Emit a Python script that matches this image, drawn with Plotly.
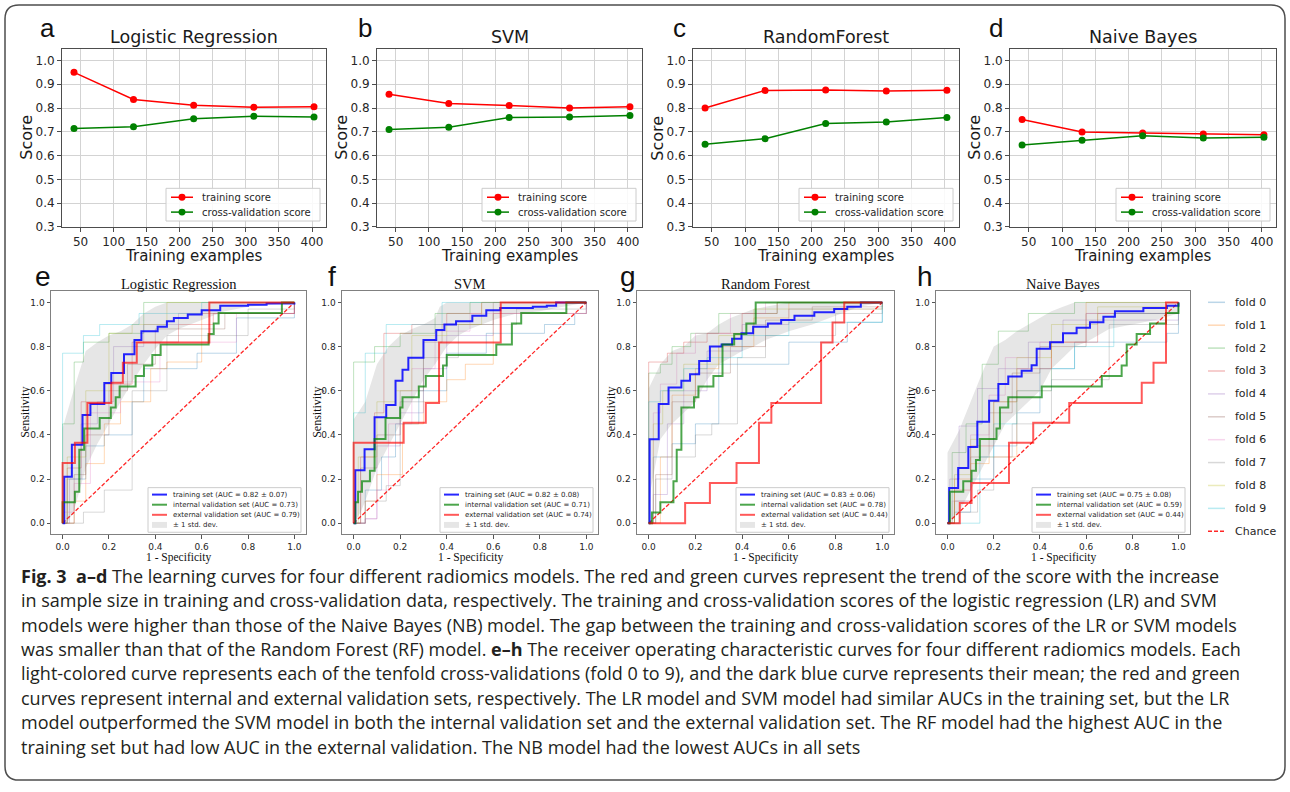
import plotly.graph_objects as go

W, H = 1290, 792

# ---------------- learning-curve data (panels a-d) ----------------
train_sizes = [40, 130, 221, 312, 403]
lc_titles = ["Logistic Regression", "SVM", "RandomForest", "Naive Bayes"]
lc_letters = ["a", "b", "c", "d"]
lr_train = [0.950, 0.836, 0.812, 0.803, 0.805]
lr_cv = [0.714, 0.721, 0.755, 0.766, 0.762]
svm_train = [0.858, 0.819, 0.811, 0.800, 0.805]
svm_cv = [0.710, 0.719, 0.760, 0.762, 0.769]
rf_train = [0.800, 0.874, 0.876, 0.872, 0.875]
rf_cv = [0.648, 0.671, 0.735, 0.741, 0.760]
nb_train = [0.752, 0.699, 0.695, 0.691, 0.688]
nb_cv = [0.645, 0.665, 0.683, 0.674, 0.677]
lc_xticks = [50, 100, 150, 200, 250, 300, 350, 400]
lc_yticks = [0.3, 0.4, 0.5, 0.6, 0.7, 0.8, 0.9, 1.0]
lc_legend = ["training score", "cross-validation score"]

# ---------------- ROC data (panels e-h) ----------------
roc_titles = ["Logistic Regression", "SVM", "Random Forest", "Naive Bayes"]
roc_letters = ["e", "f", "g", "h"]
roc_ticks = [0.0, 0.2, 0.4, 0.6, 0.8, 1.0]
auc_train = ["0.82 ± 0.07", "0.82 ± 0.08", "0.83 ± 0.06", "0.75 ± 0.08"]
auc_int = ["0.73", "0.71", "0.78", "0.59"]
auc_ext = ["0.79", "0.74", "0.44", "0.44"]
fold_names = ["fold 0", "fold 1", "fold 2", "fold 3", "fold 4",
              "fold 5", "fold 6", "fold 7", "fold 8", "fold 9"]
fold_colors = ["rgba(31,119,180,0.3)", "rgba(255,127,14,0.3)", "rgba(44,160,44,0.3)",
               "rgba(214,39,40,0.3)", "rgba(148,103,189,0.3)", "rgba(140,86,75,0.3)",
               "rgba(227,119,194,0.3)", "rgba(127,127,127,0.3)", "rgba(188,189,34,0.3)",
               "rgba(23,190,207,0.3)"]

# Logistic regression
lr_mean_x = [0, 0.007, 0.04, 0.086, 0.12, 0.18, 0.21, 0.265, 0.31, 0.34, 0.41, 0.45, 0.48, 0.54, 0.6, 0.68, 0.8, 0.88, 1.0]
lr_mean_y = [0, 0.21, 0.355, 0.49, 0.54, 0.635, 0.68, 0.765, 0.83, 0.87, 0.89, 0.915, 0.93, 0.945, 0.965, 0.985, 0.99, 0.995, 1.0]
lr_up_x = [0, 0.0, 0.05, 0.1, 0.15, 0.2, 0.25, 0.3, 0.35, 0.4, 0.45, 1.0]
lr_up_y = [0, 0.43, 0.61, 0.78, 0.82, 0.85, 0.87, 0.90, 0.95, 0.98, 1.0, 1.0]
lr_lo_x = [0, 0.02, 0.05, 0.1, 0.15, 0.2, 0.25, 0.3, 0.35, 0.4, 0.45, 0.5, 0.6, 0.7, 0.8, 1.0]
lr_lo_y = [0, 0.0, 0.06, 0.25, 0.36, 0.45, 0.55, 0.64, 0.72, 0.79, 0.85, 0.88, 0.92, 0.96, 0.98, 1.0]
lr_int_x = [0, 0, 0.053, 0.072, 0.093, 0.16, 0.208, 0.229, 0.246, 0.315, 0.351, 0.387, 0.423, 0.63, 0.652, 0.673, 0.946, 1.0]
lr_int_y = [0, 0.095, 0.143, 0.333, 0.429, 0.476, 0.524, 0.571, 0.619, 0.667, 0.714, 0.762, 0.810, 0.857, 0.905, 0.952, 1.0, 1.0]
lr_ext_x = [0, 0, 0.053, 0.107, 0.21, 0.26, 0.32, 0.633, 1.0]
lr_ext_y = [0, 0.273, 0.364, 0.545, 0.636, 0.727, 0.818, 1.0, 1.0]
lr_fold_x = [[0, 0.02, 0.1, 0.18, 0.3, 0.35, 0.58, 0.75, 1],
             [0, 0.05, 0.1, 0.18, 0.25, 0.38, 0.45, 0.6, 1],
             [0, 0, 0.05, 0.09, 0.2, 0.35, 1],
             [0, 0.02, 0.08, 0.18, 0.3, 0.5, 0.65, 1],
             [0, 0.03, 0.08, 0.15, 0.22, 0.35, 0.5, 1],
             [0, 0.05, 0.1, 0.2, 0.28, 0.4, 0.7, 1],
             [0, 0, 0.05, 0.12, 0.25, 0.42, 0.75, 1],
             [0, 0.09, 0.18, 0.3, 0.45, 0.8, 1],
             [0, 0.02, 0.1, 0.2, 0.3, 0.45, 1],
             [0, 0, 0.09, 0.16, 0.33, 0.6, 1]]
lr_fold_y = [[0, 0.2, 0.35, 0.4, 0.55, 0.7, 0.77, 0.93, 1],
             [0, 0.1, 0.27, 0.45, 0.55, 0.7, 0.73, 0.95, 1],
             [0, 0.45, 0.73, 0.82, 0.86, 1, 1],
             [0, 0.25, 0.55, 0.63, 0.82, 0.9, 0.95, 1],
             [0, 0.2, 0.45, 0.55, 0.8, 0.9, 0.95, 1],
             [0, 0.22, 0.4, 0.6, 0.72, 0.88, 0.95, 1],
             [0, 0.05, 0.18, 0.5, 0.64, 0.82, 0.95, 1],
             [0, 0.05, 0.15, 0.6, 0.85, 0.97, 1],
             [0, 0.3, 0.6, 0.86, 0.9, 1, 1],
             [0, 0.77, 0.85, 0.9, 0.95, 1, 1]]

# SVM
svm_mean_x = [0, 0.007, 0.047, 0.09, 0.14, 0.18, 0.21, 0.235, 0.30, 0.355, 0.39, 0.44, 0.51, 0.57, 0.63, 0.77, 0.83, 0.87, 1.0]
svm_mean_y = [0, 0.24, 0.335, 0.48, 0.535, 0.645, 0.695, 0.75, 0.83, 0.875, 0.90, 0.915, 0.94, 0.965, 0.975, 0.98, 0.985, 1.0, 1.0]
svm_up_x = [0, 0.0, 0.05, 0.1, 0.15, 0.2, 0.25, 0.3, 0.35, 0.37, 0.4, 1.0]
svm_up_y = [0, 0.47, 0.55, 0.72, 0.80, 0.85, 0.88, 0.90, 0.93, 0.98, 1.0, 1.0]
svm_lo_x = [0, 0.03, 0.05, 0.1, 0.15, 0.2, 0.25, 0.3, 0.35, 0.4, 0.45, 0.5, 0.6, 0.7, 0.8, 0.9, 1.0]
svm_lo_y = [0, 0.05, 0.1, 0.25, 0.35, 0.45, 0.55, 0.65, 0.72, 0.8, 0.85, 0.88, 0.92, 0.95, 0.96, 0.98, 1.0]
svm_int_x = [0, 0.007, 0.019, 0.036, 0.07, 0.09, 0.137, 0.2, 0.21, 0.28, 0.31, 0.384, 0.40, 0.613, 0.68, 0.72, 0.914, 1.0]
svm_int_y = [0, 0.095, 0.143, 0.190, 0.238, 0.381, 0.476, 0.524, 0.571, 0.619, 0.667, 0.714, 0.762, 0.810, 0.905, 0.952, 1.0, 1.0]
svm_ext_x = [0, 0, 0.215, 0.31, 0.367, 0.632, 1.0]
svm_ext_y = [0, 0.364, 0.455, 0.545, 0.818, 1.0, 1.0]
svm_fold_x = [[0, 0.05, 0.12, 0.18, 0.28, 0.4, 0.57, 0.82, 0.95, 1],
              [0, 0.05, 0.1, 0.21, 0.3, 0.4, 0.48, 0.6, 1],
              [0, 0, 0.09, 0.2, 0.35, 0.5, 1],
              [0, 0.03, 0.09, 0.13, 0.25, 0.4, 0.55, 1],
              [0, 0.05, 0.1, 0.2, 0.3, 0.4, 0.6, 1],
              [0, 0.03, 0.1, 0.2, 0.3, 0.38, 0.6, 1],
              [0, 0.05, 0.1, 0.15, 0.25, 0.35, 0.5, 1],
              [0, 0.05, 0.14, 0.2, 0.3, 0.45, 0.7, 1],
              [0, 0.02, 0.1, 0.18, 0.25, 0.4, 0.55, 1],
              [0, 0, 0.05, 0.14, 0.38, 1]]
svm_fold_y = [[0, 0.15, 0.3, 0.45, 0.6, 0.77, 0.86, 0.9, 0.95, 1],
              [0, 0.1, 0.22, 0.45, 0.55, 0.65, 0.72, 0.95, 1],
              [0, 0.73, 0.8, 0.86, 0.95, 1, 1],
              [0, 0.3, 0.5, 0.86, 0.9, 0.95, 1, 1],
              [0, 0.02, 0.35, 0.5, 0.7, 0.85, 0.95, 1],
              [0, 0.25, 0.4, 0.6, 0.82, 0.9, 1, 1],
              [0, 0.02, 0.15, 0.45, 0.7, 0.87, 0.95, 1],
              [0, 0.1, 0.17, 0.55, 0.75, 0.9, 0.97, 1],
              [0, 0.3, 0.55, 0.6, 0.85, 0.9, 1, 1],
              [0, 0.5, 0.77, 0.9, 1, 1]]

# Random forest
rf_mean_x = [0, 0.004, 0.043, 0.085, 0.14, 0.177, 0.216, 0.262, 0.312, 0.357, 0.397, 0.447, 0.51, 0.567, 0.624, 0.709, 0.794, 0.85, 0.908, 1.0]
rf_mean_y = [0, 0.38, 0.54, 0.615, 0.645, 0.675, 0.735, 0.80, 0.81, 0.835, 0.86, 0.89, 0.905, 0.92, 0.94, 0.955, 0.97, 0.98, 1.0, 1.0]
rf_up_x = [0, 0.0, 0.05, 0.1, 0.15, 0.2, 0.25, 0.3, 0.35, 0.4, 0.45, 0.5, 0.6, 1.0]
rf_up_y = [0, 0.61, 0.72, 0.78, 0.80, 0.85, 0.86, 0.90, 0.93, 0.95, 0.97, 0.98, 1.0, 1.0]
rf_lo_x = [0, 0.01, 0.05, 0.1, 0.15, 0.2, 0.25, 0.3, 0.35, 0.4, 0.45, 0.5, 0.6, 0.7, 0.8, 0.9, 1.0]
rf_lo_y = [0, 0.16, 0.38, 0.45, 0.50, 0.55, 0.65, 0.72, 0.75, 0.78, 0.80, 0.83, 0.87, 0.90, 0.94, 0.98, 1.0]
rf_int_x = [0, 0.014, 0.05, 0.106, 0.12, 0.14, 0.194, 0.213, 0.277, 0.316, 0.366, 0.418, 0.458, 1.0]
rf_int_y = [0, 0.048, 0.095, 0.190, 0.333, 0.524, 0.571, 0.619, 0.667, 0.810, 0.857, 0.905, 1.0, 1.0]
rf_ext_x = [0, 0.156, 0.262, 0.376, 0.472, 0.525, 0.738, 0.787, 0.837, 1.0]
rf_ext_y = [0, 0.091, 0.182, 0.273, 0.455, 0.545, 0.818, 0.909, 1.0, 1.0]
rf_fold_x = [[0, 0.02, 0.1, 0.2, 0.3, 0.6, 0.85, 1],
             [0, 0.05, 0.1, 0.2, 0.3, 0.45, 0.6, 1],
             [0, 0, 0.05, 0.1, 0.18, 0.3, 0.55, 1],
             [0, 0, 0.08, 0.15, 0.25, 0.4, 0.55, 1],
             [0, 0.02, 0.08, 0.15, 0.25, 0.4, 0.6, 1],
             [0, 0.03, 0.1, 0.2, 0.35, 0.5, 0.7, 1],
             [0, 0.02, 0.05, 0.12, 0.2, 0.35, 0.5, 1],
             [0, 0.03, 0.1, 0.2, 0.27, 0.38, 0.5, 0.8, 1],
             [0, 0.02, 0.06, 0.15, 0.3, 0.45, 1],
             [0, 0, 0.05, 0.15, 0.25, 0.4, 0.6, 0.9, 1]]
rf_fold_y = [[0, 0.3, 0.36, 0.45, 0.72, 0.82, 0.91, 1],
             [0, 0.3, 0.58, 0.7, 0.8, 0.93, 1, 1],
             [0, 0.68, 0.72, 0.8, 0.86, 0.95, 1, 1],
             [0, 0.73, 0.77, 0.82, 0.86, 0.95, 1, 1],
             [0, 0.13, 0.45, 0.6, 0.78, 0.9, 0.97, 1],
             [0, 0.22, 0.55, 0.68, 0.8, 0.92, 0.98, 1],
             [0, 0.5, 0.63, 0.77, 0.86, 0.95, 1, 1],
             [0, 0.2, 0.3, 0.4, 0.45, 0.75, 0.85, 0.95, 1],
             [0, 0.45, 0.6, 0.72, 0.85, 0.97, 1],
             [0, 0.55, 0.6, 0.7, 0.75, 0.85, 0.91, 0.91, 1]]

# Naive Bayes
nb_mean_x = [0, 0.007, 0.046, 0.09, 0.129, 0.18, 0.22, 0.263, 0.321, 0.364, 0.386, 0.444, 0.5, 0.559, 0.617, 0.675, 0.725, 0.848, 0.95, 1.0]
nb_mean_y = [0, 0.16, 0.25, 0.345, 0.46, 0.555, 0.63, 0.665, 0.69, 0.715, 0.79, 0.82, 0.86, 0.885, 0.91, 0.935, 0.96, 0.975, 0.985, 1.0]
nb_up_x = [0, 0.0, 0.05, 0.1, 0.15, 0.2, 0.25, 0.3, 0.35, 0.4, 0.45, 0.5, 0.55, 1.0]
nb_up_y = [0, 0.32, 0.42, 0.55, 0.68, 0.80, 0.83, 0.87, 0.90, 0.93, 0.96, 0.98, 1.0, 1.0]
nb_lo_x = [0, 0.05, 0.1, 0.15, 0.2, 0.25, 0.3, 0.35, 0.4, 0.45, 0.5, 0.55, 0.6, 0.7, 0.8, 0.9, 1.0]
nb_lo_y = [0, 0.05, 0.15, 0.25, 0.35, 0.45, 0.50, 0.55, 0.60, 0.70, 0.75, 0.80, 0.82, 0.88, 0.90, 0.92, 0.95]
nb_int_x = [0, 0.01, 0.068, 0.104, 0.123, 0.14, 0.212, 0.227, 0.263, 0.408, 0.668, 0.754, 0.776, 0.819, 0.877, 0.946, 1.0]
nb_int_y = [0, 0.143, 0.190, 0.238, 0.286, 0.381, 0.429, 0.524, 0.571, 0.619, 0.667, 0.714, 0.810, 0.857, 0.905, 0.952, 1.0]
nb_ext_x = [0, 0.053, 0.104, 0.266, 0.371, 0.527, 0.841, 0.892, 0.946, 1.0]
nb_ext_y = [0, 0.091, 0.182, 0.364, 0.455, 0.545, 0.636, 0.727, 1.0, 1.0]
nb_fold_x = [[0, 0.03, 0.1, 0.2, 0.3, 0.4, 0.55, 0.95, 1],
             [0, 0.03, 0.1, 0.18, 0.3, 0.45, 0.6, 1],
             [0, 0.02, 0.08, 0.15, 0.22, 0.35, 0.55, 1],
             [0, 0.03, 0.1, 0.2, 0.3, 0.45, 0.65, 1],
             [0, 0.01, 0.05, 0.13, 0.22, 0.35, 0.5, 1],
             [0, 0.03, 0.1, 0.18, 0.28, 0.4, 0.6, 1],
             [0, 0.02, 0.1, 0.18, 0.25, 0.4, 0.6, 1],
             [0, 0.05, 0.13, 0.2, 0.28, 0.45, 0.7, 1],
             [0, 0.03, 0.1, 0.2, 0.3, 0.45, 0.65, 1],
             [0, 0.14, 0.2, 0.3, 0.45, 0.55, 0.72, 1]]
nb_fold_y = [[0, 0.05, 0.2, 0.35, 0.5, 0.7, 0.82, 0.86, 1],
             [0, 0.2, 0.27, 0.3, 0.6, 0.82, 1, 1],
             [0, 0.32, 0.45, 0.72, 0.87, 0.95, 1, 1],
             [0, 0.15, 0.35, 0.55, 0.7, 0.82, 0.95, 1],
             [0, 0.2, 0.44, 0.61, 0.7, 0.82, 0.92, 1],
             [0, 0.1, 0.3, 0.5, 0.68, 0.8, 0.95, 1],
             [0, 0.1, 0.4, 0.58, 0.75, 0.82, 0.95, 1],
             [0, 0.05, 0.15, 0.3, 0.45, 0.65, 0.9, 1],
             [0, 0.22, 0.38, 0.55, 0.75, 0.9, 0.98, 1],
             [0, 0.3, 0.45, 0.6, 0.7, 0.8, 0.95, 1]]

caption_lines = [
    "<b>Fig. 3</b>  <b>a–d</b> The learning curves for four different radiomics models. The red and green curves represent the trend of the score with the increase",
    "in sample size in training and cross-validation data, respectively. The training and cross-validation scores of the logistic regression (LR) and SVM",
    "models were higher than those of the Naive Bayes (NB) model. The gap between the training and cross-validation scores of the LR or SVM models",
    "was smaller than that of the Random Forest (RF) model. <b>e–h</b> The receiver operating characteristic curves for four different radiomics models. Each",
    "light-colored curve represents each of the tenfold cross-validations (fold 0 to 9), and the dark blue curve represents their mean; the red and green",
    "curves represent internal and external validation sets, respectively. The LR model and SVM model had similar AUCs in the training set, but the LR",
    "model outperformed the SVM model in both the internal validation set and the external validation set. The RF model had the highest AUC in the",
    "training set but had low AUC in the external validation. The NB model had the lowest AUCs in all sets",
]

# ---------------- layout geometry (pixels) ----------------
lc_panels = [(62, 326), (377, 642), (693, 959), (1010, 1276)]
LC_T, LC_B = 49, 229
lc_letter_x = [47, 365, 679, 996]
roc_panels = [(51, 306), (342, 598), (637, 894), (936, 1190)]
ROC_T, ROC_B = 294, 539
roc_letter_x = [43, 332, 628, 925]
roc_ylab_x = [25, 317, 611, 911]

SANS = "DejaVu Sans"
SERIF = "Liberation Serif"
LETTER = "Liberation Sans"
CAPTION = "Open Sans"


def X(p):
    return p / W


def Y(p):
    return 1 - p / H


def ax_name(n):
    return ("x", "y") if n == 1 else (f"x{n}", f"y{n}")


fig = go.Figure()
annotations = []
shapes = []


def ann(x, y, text, size, family=SANS, color="#1a1a1a", xanchor="center", yanchor="middle", angle=0):
    annotations.append(dict(x=X(x), y=Y(y), xref="paper", yref="paper", text=text, showarrow=False,
                            xanchor=xanchor, yanchor=yanchor, textangle=angle,
                            font=dict(family=family, size=size, color=color)))


def line_shape(x0, y0, x1, y1, color, width, dash="solid"):
    shapes.append(dict(type="line", xref="paper", yref="paper", x0=X(x0), y0=Y(y0), x1=X(x1), y1=Y(y1),
                       line=dict(color=color, width=width, dash=dash)))


def rect_shape(x0, y0, x1, y1, fill, lcolor, lwidth):
    shapes.append(dict(type="rect", xref="paper", yref="paper", x0=X(x0), y0=Y(y0), x1=X(x1), y1=Y(y1),
                       fillcolor=fill, line=dict(color=lcolor, width=lwidth)))


# ---------------- learning curves ----------------
lc_series = [(lr_train, lr_cv), (svm_train, svm_cv), (rf_train, rf_cv), (nb_train, nb_cv)]
layout_axes = {}
for i, (tr, cv) in enumerate(lc_series):
    n = i + 1
    xa, ya = ax_name(n)
    for vals, col in ((tr, "#ff0000"), (cv, "#008000")):
        fig.add_trace(go.Scatter(x=train_sizes, y=vals, mode="lines+markers", xaxis=xa, yaxis=ya,
                                 line=dict(color=col, width=1.5), marker=dict(color=col, size=7),
                                 showlegend=False, hoverinfo="x+y"))
    l, r = lc_panels[i]
    common = dict(showline=True, mirror=True, linecolor="#4d4d4d", linewidth=1, ticks="outside", ticklen=4,
                  tickcolor="#4d4d4d", tickfont=dict(family=SANS, size=12, color="#262626"), zeroline=False,
                  showgrid=True, gridcolor="#d3d3d3", gridwidth=1)
    layout_axes["xaxis" if n == 1 else f"xaxis{n}"] = dict(
        domain=[X(l), X(r)], anchor=ya, range=[21.85, 421.15], tickvals=lc_xticks, **common)
    layout_axes["yaxis" if n == 1 else f"yaxis{n}"] = dict(
        domain=[Y(LC_B), Y(LC_T)], anchor=xa, range=[0.3, 1.05], tickvals=lc_yticks, tickformat=".1f", **common)
    cx = (l + r) / 2
    ann(cx, 37, lc_titles[i], 17.5, SANS, "#1a1a1a")
    ann(lc_letter_x[i], 28, lc_letters[i], 26, LETTER, "#111111")
    ann(27 + (l - 62), (LC_T + LC_B) / 2, "Score", 16, SANS, "#1a1a1a", angle=-90)
    ann(cx, 258, "Training examples", 15, SANS, "#1a1a1a")
    # legend box
    bx0, bx1, by0, by1 = r - 160, r - 6, 190, 223
    shapes.append(dict(type="rect", xref="paper", yref="paper", x0=X(bx0), y0=Y(by1), x1=X(bx1), y1=Y(by0),
                       fillcolor="rgba(255,255,255,0.85)", line=dict(color="#cccccc", width=1)))
    for k, col in enumerate(("#ff0000", "#008000")):
        ry = 199 + 15 * k
        line_shape(bx0 + 5, ry, bx0 + 27, ry, col, 1.5)
        shapes.append(dict(type="circle", xref="paper", yref="paper", x0=X(bx0 + 12.5), x1=X(bx0 + 19.5),
                           y0=Y(ry + 3.5), y1=Y(ry - 3.5), fillcolor=col, line=dict(color=col, width=0)))
        ann(bx0 + 34, ry, lc_legend[k], 10, SANS, "#262626", xanchor="left")

# ---------------- ROC curves ----------------
roc_sets = [
    (lr_fold_x, lr_fold_y, lr_mean_x, lr_mean_y, lr_up_x, lr_up_y, lr_lo_x, lr_lo_y, lr_int_x, lr_int_y, lr_ext_x, lr_ext_y),
    (svm_fold_x, svm_fold_y, svm_mean_x, svm_mean_y, svm_up_x, svm_up_y, svm_lo_x, svm_lo_y, svm_int_x, svm_int_y, svm_ext_x, svm_ext_y),
    (rf_fold_x, rf_fold_y, rf_mean_x, rf_mean_y, rf_up_x, rf_up_y, rf_lo_x, rf_lo_y, rf_int_x, rf_int_y, rf_ext_x, rf_ext_y),
    (nb_fold_x, nb_fold_y, nb_mean_x, nb_mean_y, nb_up_x, nb_up_y, nb_lo_x, nb_lo_y, nb_int_x, nb_int_y, nb_ext_x, nb_ext_y),
]
BLUE = "rgba(0,0,255,0.85)"
GREEN = "rgba(0,128,0,0.7)"
RED = "rgba(255,0,0,0.65)"
BAND = "rgba(128,128,128,0.2)"
CHANCE = "rgba(255,0,0,0.85)"

for i, (fx, fy, mx, my, ux, uy, lx, ly, ix, iy, ex, ey) in enumerate(roc_sets):
    n = i + 5
    xa, ya = ax_name(n)
    for k in range(10):
        fig.add_trace(go.Scatter(x=fx[k], y=fy[k], mode="lines", line=dict(color=fold_colors[k], width=1, shape="hv"),
                                 xaxis=xa, yaxis=ya, showlegend=False, hoverinfo="skip"))
    fig.add_trace(go.Scatter(x=[0, 1], y=[0, 1], mode="lines", line=dict(color=CHANCE, width=1.3, dash="4px,2px"),
                             xaxis=xa, yaxis=ya, showlegend=False, hoverinfo="skip"))
    fig.add_trace(go.Scatter(x=ux + lx[::-1], y=uy + ly[::-1], mode="lines", fill="toself", fillcolor=BAND,
                             line=dict(width=0, color=BAND), xaxis=xa, yaxis=ya, showlegend=False, hoverinfo="skip"))
    fig.add_trace(go.Scatter(x=mx, y=my, mode="lines", line=dict(color=BLUE, width=2, shape="hv"),
                             xaxis=xa, yaxis=ya, showlegend=False))
    fig.add_trace(go.Scatter(x=ix, y=iy, mode="lines", line=dict(color=GREEN, width=2, shape="hv"),
                             xaxis=xa, yaxis=ya, showlegend=False))
    fig.add_trace(go.Scatter(x=ex, y=ey, mode="lines", line=dict(color=RED, width=2, shape="hv"),
                             xaxis=xa, yaxis=ya, showlegend=False))
    l, r = roc_panels[i]
    common = dict(showline=True, mirror=True, linecolor="#808080", linewidth=1, ticks="outside", ticklen=3.5,
                  tickcolor="#555555", tickfont=dict(family=SANS, size=9, color="#262626"), zeroline=False,
                  showgrid=False, range=[-0.05, 1.05], tickvals=roc_ticks, tickformat=".1f")
    layout_axes[f"xaxis{n}"] = dict(domain=[X(l), X(r)], anchor=ya, **common)
    layout_axes[f"yaxis{n}"] = dict(domain=[Y(ROC_B), Y(ROC_T)], anchor=xa, **common)
    cx = (l + r) / 2
    ann(cx, 287, roc_titles[i], 14.5, SERIF, "#111111")
    ann(roc_letter_x[i], 279, roc_letters[i], 28, LETTER, "#111111")
    ann(roc_ylab_x[i], (ROC_T + ROC_B) / 2, "Sensitivity", 12, SERIF, "#111111", angle=-90)
    ann(cx, 562, "1 - Specificity", 11.5, SERIF, "#111111")
    # inner legend
    bx1 = r - 5
    bx0 = bx1 - 153
    shapes.append(dict(type="rect", xref="paper", yref="paper", x0=X(bx0), y0=Y(537), x1=X(bx1), y1=Y(492),
                       fillcolor="rgba(255,255,255,0.85)", line=dict(color="#cccccc", width=1)))
    labels = [f"training set (AUC = {auc_train[i]})", f"internal validation set (AUC = {auc_int[i]})",
              f"external validation set (AUC = {auc_ext[i]})", "± 1 std. dev."]
    for k, col in enumerate((BLUE, GREEN, RED)):
        ry = 499 + 10.2 * k
        line_shape(bx0 + 4, ry, bx0 + 19, ry, col, 2)
        ann(bx0 + 23, ry, labels[k], 7, SANS, "#262626", xanchor="left")
    ry = 499 + 10.2 * 3
    rect_shape(bx0 + 4, ry - 3, bx0 + 19, ry + 3, BAND, "rgba(0,0,0,0)", 0)
    ann(bx0 + 23, ry, labels[3], 7, SANS, "#262626", xanchor="left")

# fold legend (right side)
for k in range(10):
    ry = 305 + 23.1 * k
    line_shape(1208, ry, 1225, ry, fold_colors[k], 1.5)
    ann(1233, ry, fold_names[k], 11, SANS, "#262626", xanchor="left")
ry = 305 + 23.1 * 10
line_shape(1208, ry, 1225, ry, CHANCE, 1.5, dash="4px,2px")
ann(1233, ry, "Chance", 11, SANS, "#262626", xanchor="left")

# caption
for k, txt in enumerate(caption_lines):
    ann(19, 581 + 24.6 * k, txt, 18, CAPTION, "#231f20", xanchor="left")

# rounded outer frame
x0, x1, y0, y1, rr = 5, 1285, 5, 787, 14
rx, ry_ = rr / W, rr / H
X0, X1, Y0, Y1 = X(x0), X(x1), Y(y0), Y(y1)
path = (f"M {X0 + rx},{Y0} L {X1 - rx},{Y0} Q {X1},{Y0} {X1},{Y0 - ry_} "
        f"L {X1},{Y1 + ry_} Q {X1},{Y1} {X1 - rx},{Y1} L {X0 + rx},{Y1} Q {X0},{Y1} {X0},{Y1 + ry_} "
        f"L {X0},{Y0 - ry_} Q {X0},{Y0} {X0 + rx},{Y0} Z")
shapes.append(dict(type="path", xref="paper", yref="paper", path=path, line=dict(color="#4d4d4d", width=1.5)))

fig.update_layout(width=W, height=H, margin=dict(l=0, r=0, t=0, b=0), paper_bgcolor="white",
                  plot_bgcolor="white", showlegend=False, annotations=annotations, shapes=shapes,
                  **layout_axes)
fig.write_html("out.html", config={"displayModeBar": False},
               post_script="document.body.style.margin='0px';document.body.style.overflow='hidden';")
